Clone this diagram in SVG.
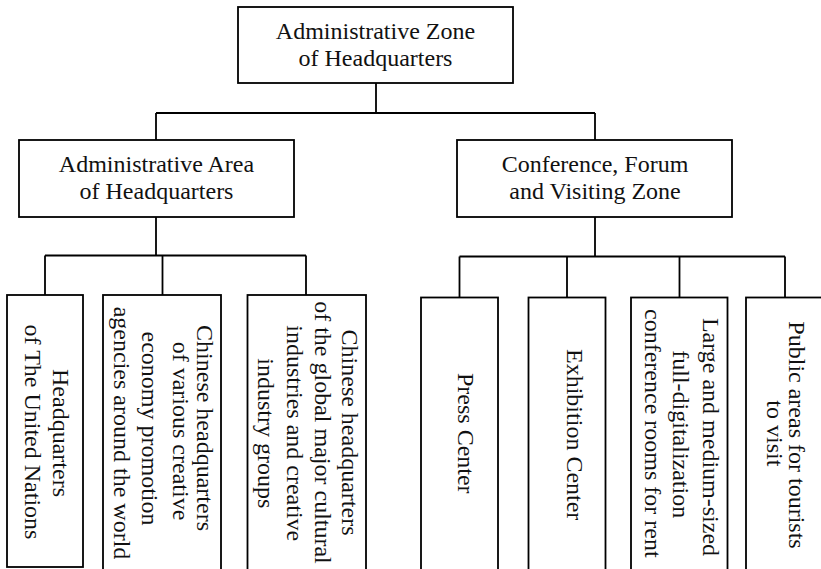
<svg xmlns="http://www.w3.org/2000/svg" width="821" height="569" viewBox="0 0 821 569">
<style>
.box{fill:#fff;stroke:#000;stroke-width:1.8}
.ln{fill:none;stroke:#000;stroke-width:1.8}
text{font-family:"Liberation Serif","Times New Roman",serif;font-size:24px;fill:#111;text-anchor:middle}
</style>
<rect width="821" height="569" fill="#fff"/>
<g id="connectors">
<path class="ln" d="M376,83 V113 M156,113 H595 M156,113 V140 M595,113 V140"/>
<path class="ln" d="M156,217 V255.5 M45,255.5 H306 M45,255.5 V295 M162.5,255.5 V295 M306,255.5 V295"/>
<path class="ln" d="M595,217 V256.5 M459.5,256.5 H785 M459.5,256.5 V297.5 M567,256.5 V297.5 M679.5,256.5 V297.5 M785,256.5 V297.5"/>
</g>
<g id="n-top">
<rect class="box" x="238" y="7" width="275" height="76"/>
<text x="375.5" y="38.5">Administrative Zone</text>
<text x="375.5" y="65.5">of Headquarters</text>
</g>
<g id="n-admin-area">
<rect class="box" x="19" y="140" width="275" height="77"/>
<text x="156.5" y="171.7">Administrative Area</text>
<text x="156.5" y="199.3">of Headquarters</text>
</g>
<g id="n-conference">
<rect class="box" x="457" y="140" width="275" height="77"/>
<text x="595" y="171.7">Conference, Forum</text>
<text x="595" y="199.3">and Visiting Zone</text>
</g>
<g id="n-un">
<rect class="box" x="7" y="295" width="76" height="272"/>
<text transform="translate(52.7,433) rotate(90)">Headquarters</text>
<text transform="translate(25,432) rotate(90)">of The United Nations</text>
</g>
<g id="n-agencies">
<rect class="box" x="103" y="295" width="118" height="280"/>
<text transform="translate(196.7,428) rotate(90)">Chinese headquarters</text>
<text transform="translate(172.5,431) rotate(90)">of various creative</text>
<text transform="translate(142,428.5) rotate(90)">economy promotion</text>
<text transform="translate(114,433) rotate(90)">agencies around the world</text>
</g>
<g id="n-groups">
<rect class="box" x="247.5" y="295" width="118.5" height="280"/>
<text transform="translate(341.7,432.5) rotate(90)">Chinese headquarters</text>
<text transform="translate(315,432.5) rotate(90)">of the global major cultural</text>
<text transform="translate(286.7,433.3) rotate(90)">industries and creative</text>
<text transform="translate(258.3,433.3) rotate(90)">industry groups</text>
</g>
<g id="n-press">
<rect class="box" x="421" y="297.5" width="77" height="280"/>
<text transform="translate(458.3,433.3) rotate(90)">Press Center</text>
</g>
<g id="n-exhibition">
<rect class="box" x="528.5" y="297.5" width="77" height="280"/>
<text transform="translate(566.7,434.7) rotate(90)">Exhibition Center</text>
</g>
<g id="n-rooms">
<rect class="box" x="631" y="297.5" width="96.5" height="280"/>
<text transform="translate(703.3,437) rotate(90)">Large and medium-sized</text>
<text transform="translate(673.3,434.2) rotate(90)">full-digitalization</text>
<text transform="translate(645,433.3) rotate(90)">conference rooms for rent</text>
</g>
<g id="n-public">
<rect class="box" x="746" y="297.5" width="80" height="280"/>
<text transform="translate(789.3,435) rotate(90)">Public areas for tourists</text>
<text transform="translate(766.7,433.3) rotate(90)">to visit</text>
</g>
</svg>
